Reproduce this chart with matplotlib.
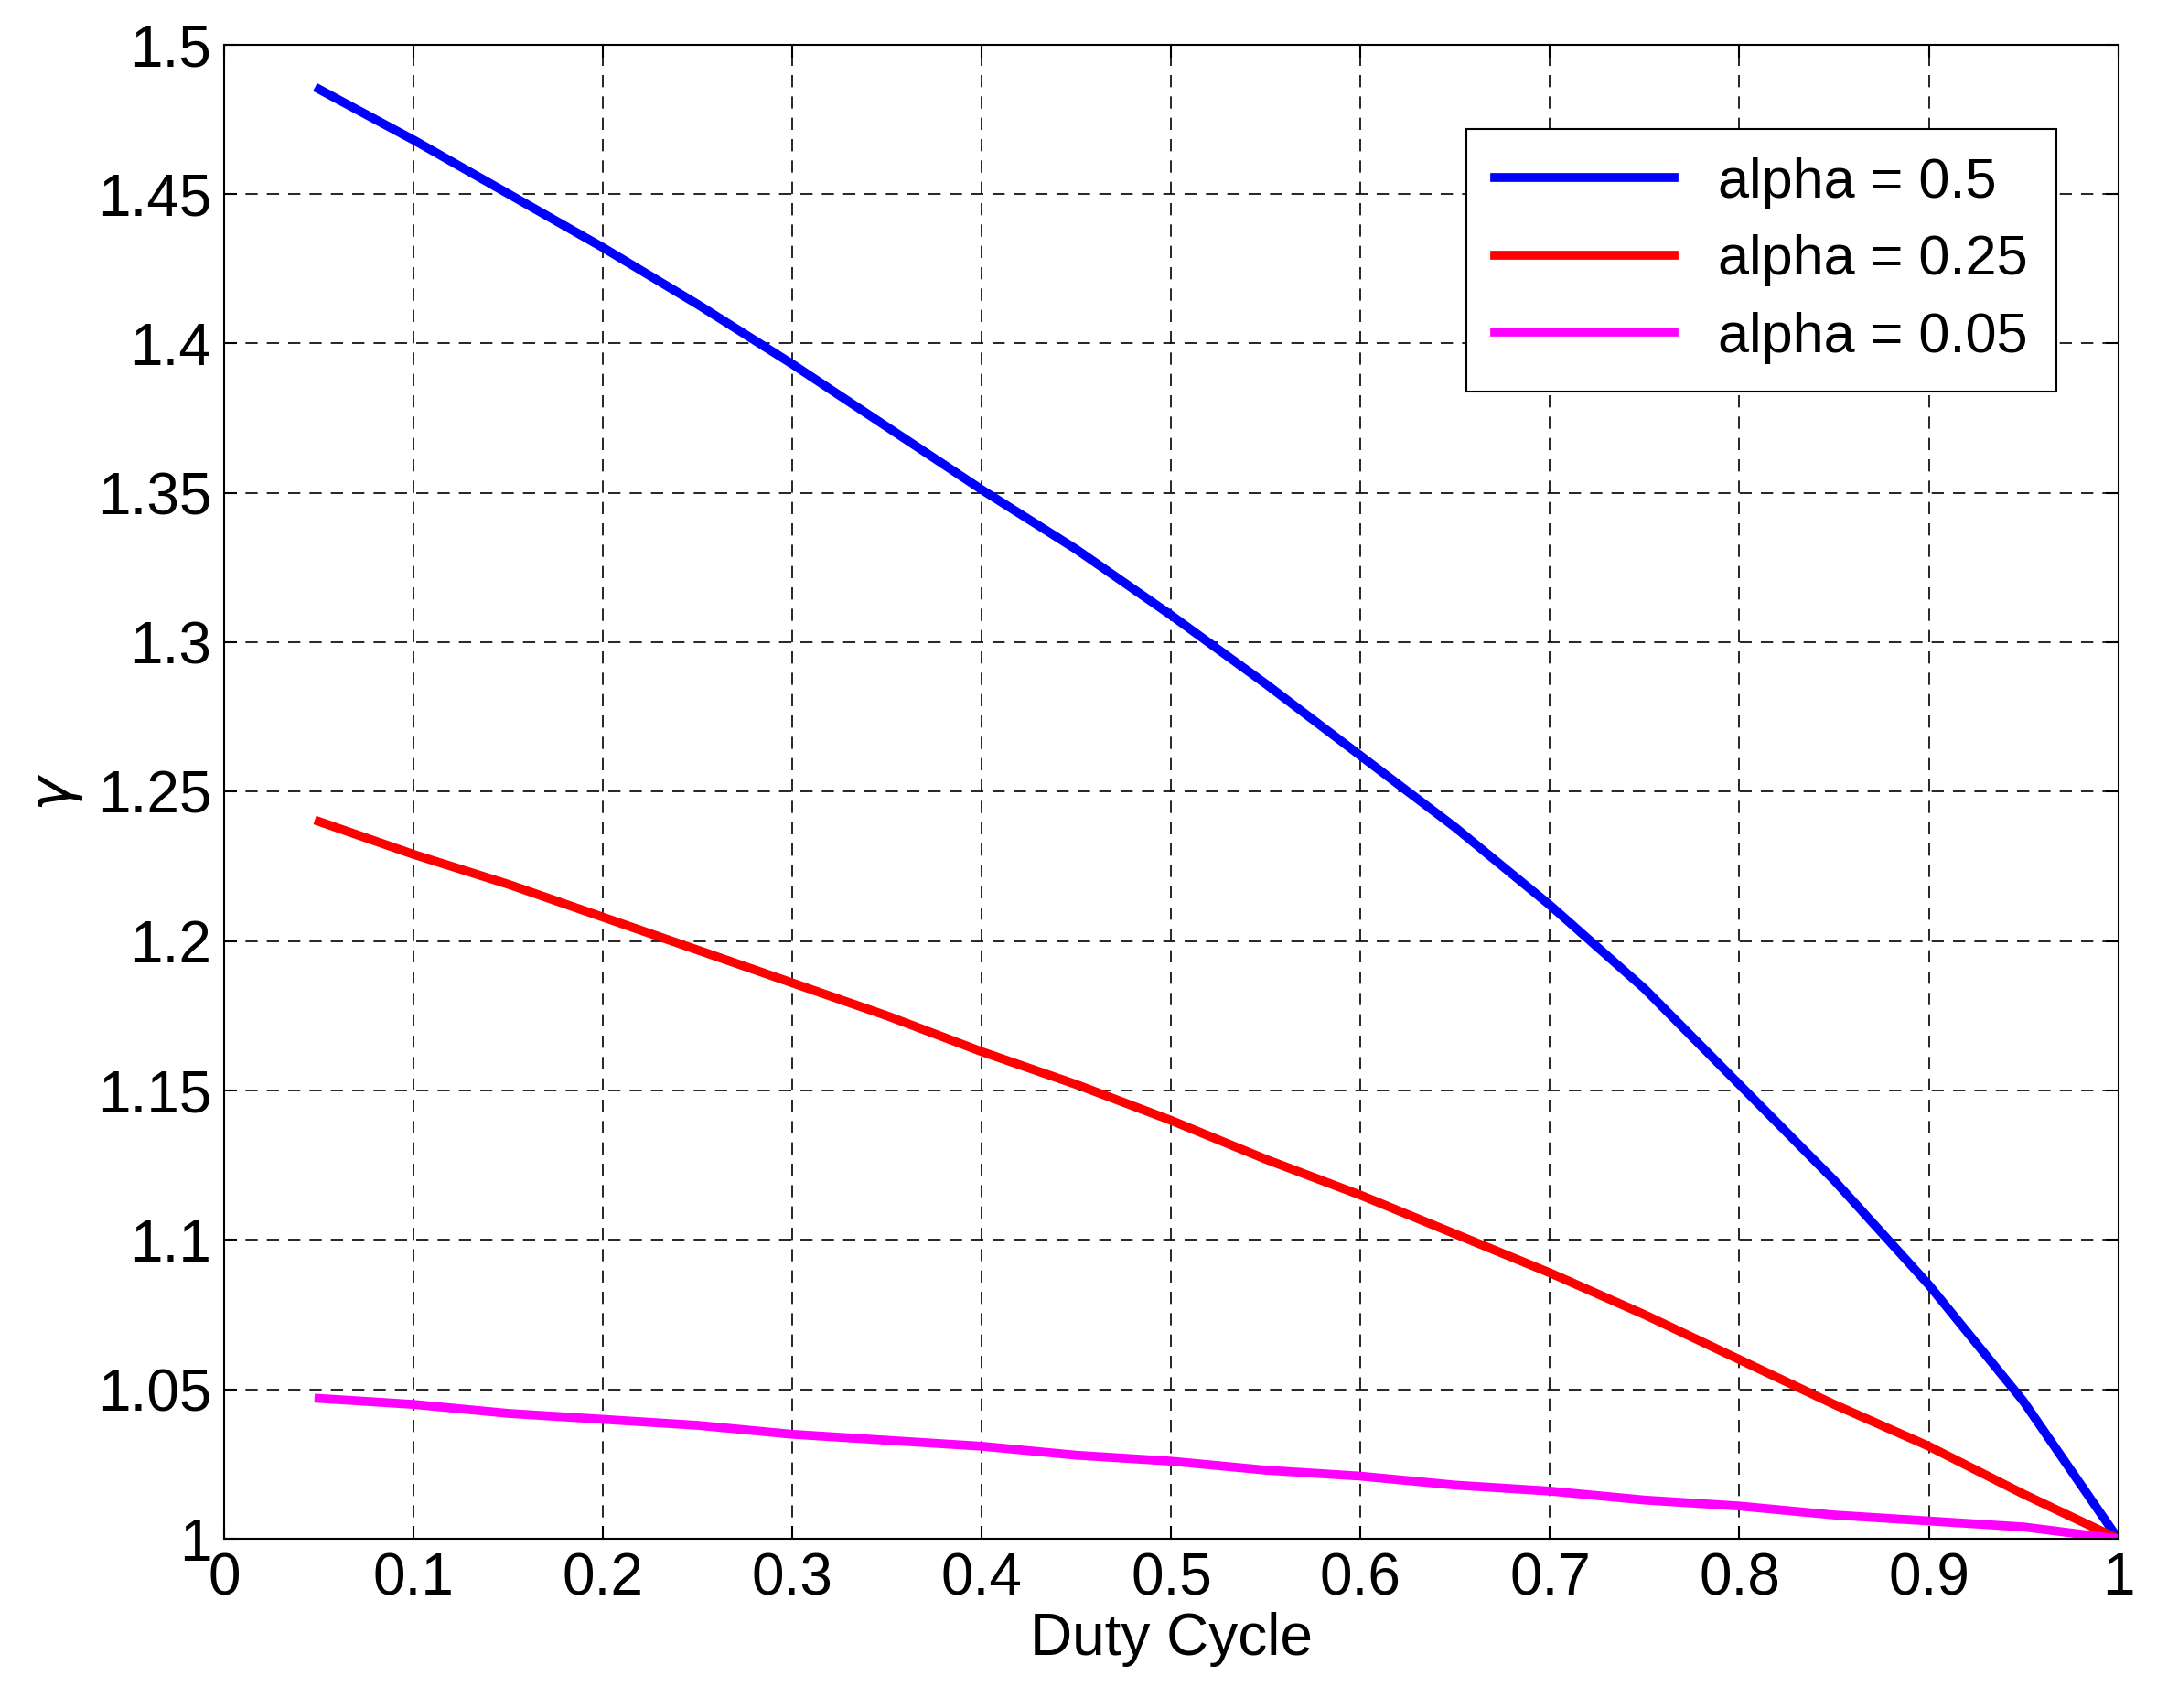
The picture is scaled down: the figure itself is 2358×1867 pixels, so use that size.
import matplotlib
matplotlib.use("Agg")
import matplotlib.pyplot as plt

duty = [0.05, 0.10, 0.15, 0.20, 0.25, 0.30, 0.35, 0.40, 0.45, 0.50,
        0.55, 0.60, 0.65, 0.70, 0.75, 0.80, 0.85, 0.90, 0.95, 1.00]
gamma_05 = [1.485, 1.468, 1.450, 1.432, 1.413, 1.393, 1.372, 1.351, 1.331, 1.309,
            1.286, 1.262, 1.238, 1.212, 1.184, 1.152, 1.120, 1.085, 1.046, 1.000]
gamma_025 = [1.240, 1.229, 1.219, 1.208, 1.197, 1.186, 1.175, 1.163, 1.152, 1.140,
             1.127, 1.115, 1.102, 1.089, 1.075, 1.060, 1.045, 1.031, 1.015, 1.000]
gamma_005 = [1.047, 1.045, 1.042, 1.040, 1.038, 1.035, 1.033, 1.031, 1.028, 1.026,
             1.023, 1.021, 1.018, 1.016, 1.013, 1.011, 1.008, 1.006, 1.004, 1.000]
labels = ["alpha = 0.5", "alpha = 0.25", "alpha = 0.05"]

plt.rcParams['font.family'] = ['Liberation Sans', 'DejaVu Sans']
fig = plt.figure(figsize=(23.58, 18.67), dpi=100)
ax = fig.add_axes([0.104, 0.099, 0.878, 0.875])

ax.plot(duty, gamma_05, color='#0000ff', lw=7, label=labels[0])
ax.plot(duty, gamma_025, color='#ff0000', lw=7, label=labels[1])
ax.plot(duty, gamma_005, color='#ff00ff', lw=7, label=labels[2])

ax.set_xlim(0, 1)
ax.set_ylim(1, 1.5)
ax.set_xticks([i / 10 for i in range(11)])
ax.set_xticklabels(["0", "0.1", "0.2", "0.3", "0.4", "0.5", "0.6", "0.7", "0.8", "0.9", "1"])
ax.set_yticks([1 + i * 0.05 for i in range(11)])
ax.set_yticklabels(["1", "1.05", "1.1", "1.15", "1.2", "1.25", "1.3", "1.35", "1.4", "1.45", "1.5"])
ax.tick_params(labelsize=46, direction='in', length=10, width=1.5, top=True, right=True, pad=10)
ax.grid(True, color='black', linestyle=(0, (8, 6)), linewidth=1.2)
for s in ax.spines.values():
    s.set_linewidth(1.5)

ax.set_xlabel("Duty Cycle", fontsize=46, labelpad=4)
ax.set_ylabel(r"$\gamma$", fontsize=46, labelpad=10)

leg = ax.legend(loc='upper right', fontsize=44, fancybox=False, framealpha=1,
                edgecolor='black', handlelength=3.2, borderpad=0.5, labelspacing=0.45,
                bbox_to_anchor=(0.982, 0.962))
leg.get_frame().set_linewidth(1.5)

fig.savefig("out.png", dpi=100, facecolor='white')
